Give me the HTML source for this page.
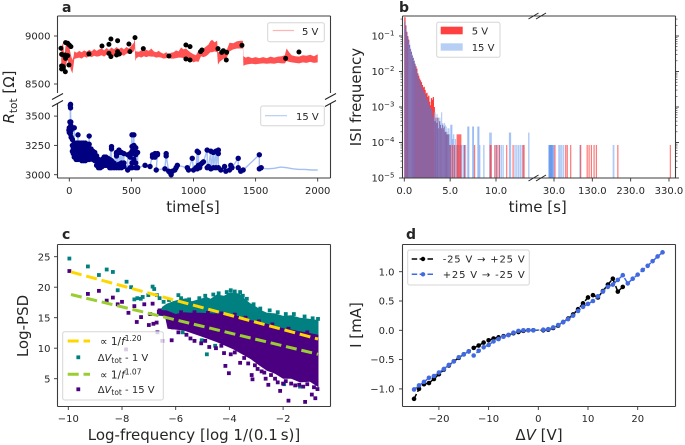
<!DOCTYPE html>
<html>
<head>
<meta charset="utf-8">
<style>
html,body{margin:0;padding:0;background:#fff;width:685px;height:445px;overflow:hidden}
svg{display:block;filter:blur(0.35px)}
text{font-family:"DejaVu Sans","Liberation Sans",sans-serif;fill:#262626}
</style>
</head>
<body>
<svg id="fig" width="685" height="445" viewBox="0 0 685 445" xmlns="http://www.w3.org/2000/svg">
<g id="pa"></g>
<g id="pb"></g>
<g id="pc"></g>
<g id="pd"></g>
</svg>
<script>
/* ---------- panel a data ---------- */
const bandTimes=[-65,-50,-40,-30,-15,0,15,25,35,40,60,80,100,120,140,160,180,200,220,240,260,280,300,320,340,360,380,400,420,440,460,480,500,520,527,532,540,560,580,600,620,640,660,680,700,720,740,760,780,800,820,840,860,880,900,920,940,960,980,1000,1020,1040,1060,1080,1100,1120,1135,1150,1170,1190,1197,1210,1240,1270,1290,1320,1350,1380,1398,1402,1420,1440,1470,1500,1530,1560,1590,1620,1650,1680,1710,1735,1750,1770,1790,1820,1850,1880,1910,1940,1970,2000];
const bandHigh=[8880,8930,8780,8900,8920,8880,8790,8750,8790,8840,8825,8845,8830,8850,8835,8855,8840,8865,8845,8860,8870,8850,8875,8855,8880,8860,8885,8865,8880,8860,8885,8870,8900,8930,8985,8840,8840,8835,8850,8840,8855,8845,8870,8840,8830,8845,8825,8815,8830,8810,8825,8830,8850,8840,8880,8860,8870,8845,8825,8810,8800,8850,8855,8870,8890,8910,8945,8960,8935,8950,8830,8830,8850,8860,8930,8925,8945,8950,8950,8790,8775,8785,8770,8780,8770,8780,8770,8785,8775,8785,8790,8800,8870,8830,8800,8790,8785,8800,8795,8805,8790,8810];
const bandLow=[8640,8700,8620,8690,8750,8700,8640,8610,8700,8760,8770,8775,8765,8785,8775,8790,8780,8795,8785,8790,8800,8785,8805,8790,8800,8790,8810,8790,8805,8795,8815,8820,8830,8840,8870,8740,8770,8785,8775,8790,8780,8790,8785,8785,8775,8780,8775,8765,8770,8770,8765,8765,8770,8775,8775,8770,8770,8750,8745,8725,8735,8730,8790,8780,8790,8810,8830,8830,8840,8830,8700,8730,8760,8780,8840,8860,8870,8870,8870,8690,8700,8705,8710,8705,8710,8715,8710,8715,8710,8720,8715,8715,8740,8730,8725,8720,8715,8725,8720,8730,8720,8725];
const blackPoints=[[-67,8872],[-62,8809],[-30,8931],[-13,8924],[0,8906],[13,8889],[-48,8802],[-35,8802],[-13,8795],[-30,8767],[-62,8688],[-48,8681],[-62,8656],[-48,8663],[-32,8628],[-3,8698],[158,8813],[263,8896],[319,8913],[335,8969],[319,8819],[335,8785],[389,8951],[389,8837],[381,8802],[403,8813],[480,8917],[488,8837],[529,8983],[596,8868],[802,8792],[939,8906],[972,8889],[939,8760],[972,8750],[1057,8837],[1068,8854],[1197,8868],[1227,8830],[1240,8847],[1267,8830],[1264,8750],[1390,8903],[1742,8767],[1849,8833]];
const navyTimes=[10,12,8,5,0,-3,15,25,32,40,48,55,62,70,78,85,92,100,108,115,122,130,138,145,152,160,168,175,190,205,220,235,250,265,280,295,310,325,340,360,380,400,420,440,470,490,505,520,535,550,610,650,670,690,710,700,770,780,800,810,820,830,850,860,870,950,960,990,1000,1020,1030,1040,1050,1060,1070,1080,1110,1120,1140,1160,1180,1200,1220,1250,1260,1290,1300,1310,1360,1380,1400,1530,1545];
const navyValues=[[3600,3570],[3420,3450],[3590,3350],[3450,3380],[3400,3360],[3380],[3380,3320],[3400,3300,3250,3200],[3230,3180],[3400,3270,3230,3190,3150],[3250,3200,3160],[3130,3170,3210,3250,3270],[3240,3200,3150],[3340,3130,3170,3210,3250,3270],[3240,3190,3150],[3150,3190,3230,3270],[3250,3210,3170],[3120,3160,3200,3240,3270],[3260,3220,3180,3140],[3120,3160,3200,3240,3270],[3250,3210,3170,3130],[3120,3160,3200,3250,3270],[3220,3180,3140],[3130,3170,3210,3250],[3230,3190,3150],[3330,3130,3170,3210,3260],[3220,3180,3140],[3140,3180,3220],[3130,3170,3200],[3120,3160,3190],[3080,3120,3160],[3060,3100,3130],[3060,3090,3120],[3070,3110,3130],[3080,3120,3150],[3080,3120,3150],[3080,3110,3140],[3060,3090,3130],[3240,3220,3060,3090,3120],[3060,3100],[3190,3180,3160,3060,3080],[3210,3190,3060,3090],[3190,3060,3100],[3180,3070,3100],[3040,3170],[3180,3150,3060],[3340,3240,3200,3100,3060],[3340,3250,3210,3130,3180],[3230,3190,3100,3060,3170],[3190,3060],[3080],[3070],[3170,3150],[3180,3150],[3170,3180],[3040],[3050],[3180,3160],[3030],[3020],[3000],[3030],[3040],[3060],[3080],[3060],[3040],[3140],[3040],[3060],[3200,3050],[3190,3080],[3060],[3090],[3100],[3110],[3210,3060],[3070],[3200,3050],[3190,3060],[3200,3060],[3210,3180,3060],[3040],[3070],[3030],[3040],[3080],[3060],[3140,3060],[3030],[3040],[3170,3050],[3060]];
const tailTimes=[1560,1600,1650,1700,1750,1800,1850,1900,1950,2000];
const tailValues=[3055,3050,3055,3065,3060,3050,3045,3045,3040,3040];
const aXTicks=[0,500,1000,1500,2000];
const aTopTicks=[9000,8500];
const aLowTicks=[3500,3250,3000];

/* ---------- panel b data ---------- */
const isi5LogFreq=[-0.47,-0.7,-0.88,-1.0,-1.1,-1.25,-1.37,-1.45,-1.55,-1.62,-1.7,-1.78,-1.85,-1.92,-2.05,-2.12,-2.2,-2.25,-2.3,-2.38,-2.45,-2.43,-2.52,-2.62,-2.6,-2.72,-2.68,-2.85,-2.95,-2.75,-2.8,-2.72,-3.0,-3.4,-3.3,-3.45,-3.3,-3.6,-3.4,-3.5,-3.6,-3.5,-3.6,-3.55,-3.7,-3.7,-3.77,-3.77,-3.77,-4.07];
const isi15LogFreq=[-0.6,-0.75,-0.9,-1.02,-1.12,-1.22,-1.33,-1.42,-1.52,-1.6,-1.68,-1.78,-1.88,-1.97,-2.08,-2.17,-2.25,-2.3,-2.4,-2.46,-2.52,-2.58,-2.62,-2.7,-2.78,-2.8,-2.88,-2.95,-3.02,-3.05,-3.12,-3.25,-3.3,-3.15,-3.35,-3.2,-3.3,-3.45,-3.3,-3.42,-3.15,-3.45,-3.5,-3.45,-3.5,-3.55,-3.7,-3.6,-3.6,-3.77];
const isi5TailTimes=[5.0,5.2,5.4,5.7,5.8,5.9,6.0,6.1,6.5,7.6,9.3,9.4,9.8,10.0,10.3,11.1,11.8,12.9,13.0,31,59,63,72,98,115,120,126,133,139,195,332];
const isi5TailLog=[-4.07,-4.07,-4.07,-3.77,-3.77,-3.77,-3.77,-3.77,-4.07,-4.07,-4.07,-4.07,-4.07,-4.07,-4.07,-4.07,-4.07,-4.07,-4.07,-4.07,-4.07,-4.07,-4.07,-4.07,-4.07,-4.07,-4.07,-4.07,-4.07,-4.07,-4.07];
const isi15TailTimes=[5.0,5.1,5.2,5.3,5.4,5.5,5.6,5.7,5.8,6.0,6.1,6.2,6.4,6.5,6.6,6.85,6.95,7.4,7.45,7.95,8.05,8.15,8.6,9.25,9.4,9.9,10.1,10.3,10.5,10.7,11.4,11.5,12.0,12.2,12.4,12.6,12.8,13.5,15,16,17,18,19,20,21,22,23,25,27,41,46,52,96,183];
const isi15TailLog=[-3.5,-3.5,-3.9,-3.77,-4.07,-3.9,-4.07,-4.07,-4.07,-4.07,-4.07,-4.07,-4.07,-4.07,-4.07,-3.55,-3.55,-3.55,-3.55,-3.55,-3.55,-4.07,-4.07,-3.72,-3.72,-4.07,-4.07,-4.07,-4.07,-4.07,-3.72,-3.72,-4.07,-4.07,-4.07,-4.07,-4.07,-3.72,-4.07,-4.07,-4.07,-4.07,-4.07,-4.07,-4.07,-4.07,-4.07,-4.07,-4.07,-4.07,-4.07,-4.07,-4.07,-4.07];
const bXTicks=[0,5,10,30,130,230,330];
const bXLabels=["0.0","5.0","10.0","30.0","130.0","230.0","330.0"];
const bYTicks=[-1,-2,-3,-4,-5];

/* ---------- panel c data ---------- */
const tealEnvX=[-6.5,-6.34,-6.1,-5.85,-5.6,-5.4,-5.15,-4.85,-4.7,-4.47,-4.2,-3.97,-3.8,-3.6,-3.4,-3.23,-3,-2.8,-2.6,-2.3,-2,-1.7,-1.37,-1,-0.68];
const tealEnvTop=[16.8,17.3,17.7,18.0,18.2,17.7,18.0,18.4,18.1,18.8,18.6,19.2,19.1,18.9,18.0,17.4,16.8,16.2,15.8,15.7,15.3,15.4,15.0,14.8,14.6];
const purpleEnvX=[-6.7,-6.34,-6,-5.7,-5.4,-5.1,-4.6,-4.1,-3.6,-3.2,-2.6,-2,-1.4,-0.68];
const purpleEnvTop=[16.3,16.2,15.6,15.9,15.8,15.8,15.7,15.7,15.2,14.6,14,13.3,12.8,12.2];
const purpleEnvLowX=[-6.7,-6.4,-6.3,-5.7,-5.1,-4.47,-3.85,-3.2,-2.9,-2.6,-2.3,-2,-1.7,-1.37,-1,-0.68];
const purpleEnvLow=[15.5,15.2,13.2,12.9,12.0,11.0,9.8,8.2,7.2,6.3,5.8,5.0,5.0,4.4,4.5,3.6];
const tealPoints=[[-9.96,24.7],[-9.27,23.4],[-8.86,22],[-8.57,22.9],[-8.34,22.5],[-8.16,19.5],[-7.83,20.9],[-7.66,20],[-7.54,18],[-7.43,18.2],[-7.3,18.1],[-7.23,18.4],[-7.02,18.7],[-6.86,20.1],[-6.8,19.7],[-6.7,18.7],[-6.6,18.2],[-6.45,17.6],[-6.25,17.9],[-5.9,18.7],[-5.8,18.2],[-5.5,18.0],[-5.12,18.2],[-4.9,18.6],[-4.6,18.8],[-4.4,19],[-4.1,19.2],[-3.95,19.5],[-3.8,19.3],[-3.6,19.2],[-3.5,18.6],[-3.35,18.1],[-3.1,17.2],[-2.85,16.5],[-2.5,16.2],[-2.2,15.9],[-1.9,15.6],[-1.6,15.6],[-1.2,15.2],[-0.9,14.9],[-0.7,14.8],[-4.84,9],[-4.53,10.4],[-5.74,12.6],[-5.03,11.3],[-1.96,4.1],[-1.37,3.7]];
const purplePoints=[[-9.96,22.65],[-9.27,18.9],[-8.86,19.4],[-8.57,17.8],[-8.34,18.3],[-8.16,17.2],[-8,17.6],[-7.76,15.8],[-7.54,16.9],[-7.45,14.3],[-7.29,15.1],[-7.17,17.2],[-7,13.8],[-6.83,14],[-6.71,14.2],[-6.86,17.3],[-6.68,12.6],[-6.5,11.2],[-6.15,11.3],[-7.85,9.8],[-6.95,15.6],[-6.6,16.2],[-6.45,15.8],[-6.3,15.4],[-6.2,14.2],[-6.1,13.4],[-5.9,12.6],[-5.6,12.2],[-5.45,11.6],[-5.3,11.2],[-5.05,10.8],[-4.9,11.2],[-4.75,10.2],[-4.5,10],[-4.3,10.4],[-4.15,7.1],[-4.02,5.9],[-4.2,9.2],[-3.95,9],[-3.8,9.3],[-3.6,7.6],[-3.45,8.4],[-3.3,7.5],[-3.17,5.6],[-3.14,4.9],[-3.05,7.2],[-2.95,6.6],[-2.8,6.2],[-2.7,6],[-2.65,5],[-2.55,4],[-2.45,5.6],[-2.3,5],[-2.2,4.4],[-2.11,3],[-2,4.2],[-1.9,4.6],[-1.8,1.4],[-1.7,4.2],[-1.55,3.9],[-1.4,4],[-1.25,3.7],[-1.18,1.2],[-1.1,4.1],[-0.93,2.4],[-0.85,3.6],[-0.8,1.8],[-0.72,3.3],[-5.8,15.9],[-5.3,15.9],[-4.8,15.8],[-4.3,15.7],[-3.8,15.5],[-3.4,15],[-2.9,14.4],[-2.4,13.9],[-1.8,13.2],[-1.1,12.6]];
const fitGoldX=[-9.9,-0.7];
const fitGoldY=[22.5,11.5];
const fitGreenX=[-9.9,-0.7];
const fitGreenY=[18.8,9];
const cXTicks=[-10,-8,-6,-4,-2];
const cYTicks=[25,20,15,10,5];

/* ---------- panel d data ---------- */
const blackV=[-25,-24,-23,-22,-21,-20,-19,-18,-17,-16,-15,-14,-13,-12,-11,-10,-9,-8,-7,-6,-5,-4,-3,-2,-1,1,2,3,4,5,6,7,8,9,10,11,12,13,14,15,16,17];
const blackI=[-1.17,-1.0,-0.92,-0.9,-0.83,-0.75,-0.67,-0.6,-0.53,-0.47,-0.41,-0.36,-0.3,-0.26,-0.21,-0.17,-0.14,-0.12,-0.1,-0.08,-0.05,-0.03,-0.01,0,0,0,0.01,0.04,0.08,0.14,0.2,0.27,0.36,0.46,0.56,0.6,0.56,0.67,0.78,0.88,0.66,0.74];
const blueUpperV=[25,24,23,22,21,20,19,18,17,16,15,14,13,12,11,10,9,8,7,6,5,4,3,2,1,-1,-2,-3,-4,-5,-6,-7,-8,-9,-10,-11,-12,-13];
const blueUpperI=[1.33,1.26,1.18,1.1,1.03,0.95,0.88,0.8,0.94,0.86,0.78,0.74,0.66,0.58,0.5,0.45,0.4,0.33,0.25,0.19,0.14,0.09,0.05,0.02,0.01,0,0,0,-0.01,-0.04,-0.08,-0.11,-0.15,-0.19,-0.25,-0.29,-0.35,-0.43];
const blueLowerV=[-14,-15,-16,-17,-18,-19,-20,-21,-22,-23,-24,-25];
const blueLowerI=[-0.36,-0.41,-0.46,-0.53,-0.59,-0.66,-0.72,-0.78,-0.81,-0.88,-0.94,-1.01];
const dXTicks=[-20,-10,0,10,20];
const dYTicks=[1.0,0.5,0.0,-0.5,-1.0];

/* ---------- helpers and scales ---------- */
const NS='http://www.w3.org/2000/svg';
function mk(parent,tag,attrs,txt){
  const n=document.createElementNS(NS,tag);
  for(const k in attrs)n.setAttribute(k,attrs[k]);
  if(txt!==undefined)n.textContent=txt;
  parent.appendChild(n);
  return n;
}
const fmtMinus=v=>String(v).replace('-','\u2212');
const L=57.5,R=330.5,L2=402.5,R2=675.5;
const xA=t=>69.3+t*0.1242;
const yATop=v=>36+(9000-v)*0.096;
const yALow=v=>174.7-(v-3000)*0.1172;
const xB=t=>t<=14.5?404.3+t*9.17:554+(t-30)*0.3833;
const yB=e=>178-(e+5)*35.5;
const xC=v=>68.3+(v+10)*26.85;
const yC=v=>378.7-(v-5)*6.1;
const xD=v=>538.3+v*4.97;
const yD=v=>330.3-v*58.6;

function tick(g,x1,y1,x2,y2,w){
  const t=mk(g,'line',{x1:x1,y1:y1,x2:x2,y2:y2,stroke:'#333','stroke-width':w||0.9});
  
  
}
function label(g,x,y,s,anchor,size){
  const t=mk(g,'text',{x:x,y:y,'text-anchor':anchor||'middle','font-size':size||10},s);
  
  
  return t;
}
function spine(g,x1,y1,x2,y2){
  const s=mk(g,'line',{x1:x1,y1:y1,x2:x2,y2:y2,stroke:'#3c3c3c','stroke-width':1.1});
  
  
}
function breakMark(g,x,y,dx,dy){
  const s=mk(g,'line',{x1:x-dx,y1:y+dy,x2:x+dx,y2:y-dy,stroke:'#222','stroke-width':1});
  
  
}
function legendBox(g,x,y,w,h){
  const b=mk(g,'rect',{x:x,y:y,width:w,height:h,rx:2,fill:'#fff','fill-opacity':0.8,stroke:'#d6d6d6','stroke-width':1});
  
  
}
function named(n,name){
  
  
  return n;
}
function titleText(g,x,y,s,name){
  const t=mk(g,'text',{x:x,y:y,'font-size':14,'font-weight':'bold'},s);
  
  
}
function rotLabel(g,x,y,name){
  const t=mk(g,'text',{x:x,y:y,'font-size':15,'text-anchor':'middle',transform:'rotate(-90 '+x+' '+y+')'});
  
  
  return t;
}
function rich(t,parts){
  parts.forEach(p=>{
    const a={};
    if(p.i)a['font-style']='italic';
    if(p.s)a['font-size']=p.s;
    if(p.dy)a.dy=p.dy;
    mk(t,'tspan',a,p.t);
  });
}

/* ---------- panel a ---------- */
(function(){
  const g=document.getElementById('pa');
  let d='';
  bandTimes.forEach((t,i)=>{d+=(i?'L':'M')+xA(t).toFixed(1)+' '+yATop(bandHigh[i]).toFixed(1);});
  for(let i=bandTimes.length-1;i>=0;i--)d+='L'+xA(bandTimes[i]).toFixed(1)+' '+yATop(bandLow[i]).toFixed(1);
  const band=mk(g,'path',{d:d+'Z',fill:'#ff5252'});
  
  
  blackPoints.forEach(p=>{
    const c=mk(g,'circle',{cx:xA(p[0]),cy:yATop(p[1]),r:2.5,fill:'#000'});
    
    
  });
  let pts=[];
  navyTimes.forEach((t,i)=>navyValues[i].forEach(v=>pts.push(xA(t).toFixed(1)+','+yALow(v).toFixed(1))));
  tailTimes.forEach((t,i)=>pts.push(xA(t).toFixed(1)+','+yALow(tailValues[i]).toFixed(1)));
  const line=mk(g,'polyline',{points:pts.join(' '),fill:'none',stroke:'#a4c0f2','stroke-width':1.4});
  
  
  navyTimes.forEach((t,i)=>navyValues[i].forEach(v=>{
    const c=mk(g,'circle',{cx:xA(t),cy:yALow(v),r:2.7,fill:'#000080'});
    
    
  }));
  spine(g,L,16,R,16);spine(g,L,16,L,93);spine(g,R,16,R,93);
  spine(g,L,103,L,178);spine(g,R,103,R,178);spine(g,L,178,R,178);
  [[L,97],[L,104],[R,97],[R,104]].forEach(p=>{breakMark(g,p[0],p[1]-0.5,5.5,3);});
  aXTicks.forEach(v=>{tick(g,xA(v),178,xA(v),181.5);label(g,xA(v),194,String(v));});
  aTopTicks.forEach(v=>{tick(g,54,yATop(v),L,yATop(v));label(g,50.5,yATop(v)+3.6,String(v),'end');});
  aLowTicks.forEach(v=>{tick(g,54,yALow(v),L,yALow(v));label(g,50.5,yALow(v)+3.6,String(v),'end');});
  titleText(g,62,12,'a','panel-a-label');
  const yl=rotLabel(g,14,97,'y-axis-title-resistance');
  rich(yl,[{t:'R',i:1},{t:'tot',s:10.5,dy:3},{t:' [\u03a9]',dy:-3}]);
  named(mk(g,'text',{x:193,y:212,'font-size':15,'text-anchor':'middle'},'time[s]'),'x-axis-title-time');
  legendBox(g,267.7,22.7,56.6,19);
  named(mk(g,'line',{x1:272.7,y1:30.5,x2:294,y2:30.5,stroke:'#ffb3b3','stroke-width':1.2}),'legend-line-5v');
  named(mk(g,'text',{x:302,y:35,'font-size':10},'5 V'),'legend-entry-5v');
  legendBox(g,260.7,106,63.6,19.7);
  named(mk(g,'line',{x1:265,y1:115.7,x2:287,y2:115.7,stroke:'#b3cbf3','stroke-width':1.2}),'legend-line-15v');
  named(mk(g,'text',{x:296,y:120,'font-size':10},'15 V'),'legend-entry-15v');
})();

/* ---------- panel b ---------- */
(function(){
  const g=document.getElementById('pb');
  const w=0.1;
  function bar(t,e,fill,op,name,wd){
    const x=xB(t);
    const r=mk(g,'rect',{x:x,y:yB(e),width:wd,height:178-yB(e),fill:fill,'fill-opacity':op});
    
    
  }
  isi15TailTimes.forEach((t,i)=>bar(t,isi15TailLog[i],'#6495ed',0.5,'bar-15v',t>14.5?1.8:1.4));
  isi5TailTimes.forEach((t,i)=>bar(t,isi5TailLog[i],'#ff3030',0.65,'bar-5v',t>14.5?1.2:1.2));
  isi5LogFreq.forEach((e,i)=>{
    const t=i*w,b=isi15LogFreq[i];
    const wd=w*9.17+0.35;
    if(e>b){bar(t,e,'#ff3a3a',1,'bar-5v',wd);}
    else if(b>e){bar(t,b,'#b8cff5',1,'bar-15v',wd);}
    bar(t,Math.min(e,b),'#8468aa',1,'bar-overlap',wd);
  });
  spine(g,L2,16,R2,16);spine(g,L2,178,R2,178);spine(g,L2,16,L2,178);spine(g,R2,16,R2,178);
  [[533.5,16],[541,16],[533.5,178],[541,178]].forEach(p=>breakMark(g,p[0],p[1],5,3));
  bXTicks.forEach((v,i)=>{tick(g,xB(v),178,xB(v),181.5);label(g,xB(v),194,bXLabels[i]);});
  bYTicks.forEach(e=>{
    tick(g,399,yB(e),L2,yB(e));tick(g,R2,yB(e),R2+3.5,yB(e));
    const t=label(g,394.5,yB(e)+3.6,'','end');
    rich(t,[{t:'10'},{t:'\u2212'+Math.abs(e),s:7,dy:-4}]);
    if(e>-5){
      [2,3,4,5,6,7,8,9].forEach(m=>{
        const ym=yB(e-1+Math.log10(m));
        tick(g,400.5,ym,L2,ym,0.6);tick(g,R2,ym,R2+2,ym,0.6);
      });
    }
  });
  [2,3].forEach(m=>{const ym=yB(-1+Math.log10(m));if(ym>16){tick(g,400.5,ym,L2,ym,0.6);tick(g,R2,ym,R2+2,ym,0.6);}});
  titleText(g,399,12,'b','panel-b-label');
  const yl=rotLabel(g,361,97,'y-axis-title-isi-frequency');
  yl.textContent='ISI frequency';
  named(mk(g,'text',{x:537.7,y:212,'font-size':15,'text-anchor':'middle'},'time [s]'),'x-axis-title-time');
  legendBox(g,436.7,22.3,63.3,35);
  named(mk(g,'rect',{x:440.7,y:26.7,width:22,height:7.6,fill:'#ff4040'}),'legend-patch-5v');
  named(mk(g,'text',{x:471.7,y:34.5,'font-size':10},'5 V'),'legend-entry-5v');
  named(mk(g,'rect',{x:440.7,y:43.3,width:22,height:7.4,fill:'#b8cff5'}),'legend-patch-15v');
  named(mk(g,'text',{x:471.7,y:51,'font-size':10},'15 V'),'legend-entry-15v');
})();

/* ---------- panel c ---------- */
(function(){
  const g=document.getElementById('pc');
  function sq(p,fill,name,x,y){
    const r=mk(g,'rect',{x:(x===undefined?xC(p[0]):x)-1.9,y:(y===undefined?yC(p[1]):y)-1.9,width:3.8,height:3.8,fill:fill});
    
    
  }
  let d='';
  tealEnvX.forEach((x,i)=>{d+=(i?'L':'M')+xC(x).toFixed(1)+' '+yC(tealEnvTop[i]).toFixed(1);});
  for(let i=purpleEnvX.length-1;i>=0;i--)d+='L'+xC(purpleEnvX[i]).toFixed(1)+' '+(yC(purpleEnvTop[i])+6).toFixed(1);
  named(mk(g,'path',{d:d+'Z',fill:'#008080'}),'series-1v-dense-cloud');
  tealPoints.forEach(p=>sq(p,'#008080','point-1v'));
  let e='';
  purpleEnvX.forEach((x,i)=>{e+=(i?'L':'M')+xC(x).toFixed(1)+' '+yC(purpleEnvTop[i]).toFixed(1);});
  for(let i=purpleEnvLowX.length-1;i>=0;i--)e+='L'+xC(purpleEnvLowX[i]).toFixed(1)+' '+yC(purpleEnvLow[i]).toFixed(1);
  named(mk(g,'path',{d:e+'Z',fill:'#4b0082'}),'series-15v-dense-cloud');
  purplePoints.forEach(p=>sq(p,'#4b0082','point-15v'));
  named(mk(g,'line',{x1:xC(fitGoldX[0]),y1:yC(fitGoldY[0]),x2:xC(fitGoldX[1]),y2:yC(fitGoldY[1]),stroke:'#ffd700','stroke-width':3,'stroke-dasharray':'11 4.8'}),'fit-line-1v');
  named(mk(g,'line',{x1:xC(fitGreenX[0]),y1:yC(fitGreenY[0]),x2:xC(fitGreenX[1]),y2:yC(fitGreenY[1]),stroke:'#9acd32','stroke-width':3,'stroke-dasharray':'11 4.8'}),'fit-line-15v');
  spine(g,L,244.5,R,244.5);spine(g,L,406.5,R,406.5);spine(g,L,244.5,L,406.5);spine(g,R,244.5,R,406.5);
  cXTicks.forEach(v=>{tick(g,xC(v),406.5,xC(v),410);label(g,xC(v),422,fmtMinus(v));});
  cYTicks.forEach(v=>{tick(g,54,yC(v),L,yC(v));label(g,50.5,yC(v)+3.6,String(v),'end');});
  titleText(g,62,239,'c','panel-c-label');
  const yl=rotLabel(g,28,326,'y-axis-title-log-psd');
  yl.textContent='Log-PSD';
  named(mk(g,'text',{x:194,y:440,'font-size':15,'text-anchor':'middle'},'Log-frequency [log 1/(0.1\u2009s)]'),'x-axis-title-log-frequency');
  legendBox(g,62.7,331.7,100.6,68.3);
  named(mk(g,'line',{x1:67.7,y1:341,x2:90,y2:341,stroke:'#ffd700','stroke-width':3,'stroke-dasharray':'11 4.8'}),'legend-line-fit-1v');
  const t1=named(mk(g,'text',{x:100,y:345,'font-size':10.5}),'legend-entry-fit-1v');
  rich(t1,[{t:'\u221d 1/'},{t:'f',i:1},{t:'1.20',s:7.5,dy:-4}]);
  sq(null,'#008080','legend-marker-1v',78.3,357.3);
  const t2=named(mk(g,'text',{x:97.7,y:361,'font-size':10}),'legend-entry-1v');
  rich(t2,[{t:'\u0394'},{t:'V',i:1},{t:'tot',s:7.5,dy:2},{t:' - 1 V',dy:-2}]);
  named(mk(g,'line',{x1:67.7,y1:374.3,x2:90,y2:374.3,stroke:'#9acd32','stroke-width':3,'stroke-dasharray':'11 4.8'}),'legend-line-fit-15v');
  const t3=named(mk(g,'text',{x:100,y:378.5,'font-size':10.5}),'legend-entry-fit-15v');
  rich(t3,[{t:'\u221d 1/'},{t:'f',i:1},{t:'1.07',s:7.5,dy:-4}]);
  sq(null,'#4b0082','legend-marker-15v',78.3,389.3);
  const t4=named(mk(g,'text',{x:97.7,y:393,'font-size':10}),'legend-entry-15v');
  rich(t4,[{t:'\u0394'},{t:'V',i:1},{t:'tot',s:7.5,dy:2},{t:' - 15 V',dy:-2}]);
})();

/* ---------- panel d ---------- */
(function(){
  const g=document.getElementById('pd');
  function series(vs,is,color,name){
    const pts=vs.map((v,i)=>xD(v).toFixed(1)+','+yD(is[i]).toFixed(1)).join(' ');
    const l=mk(g,'polyline',{points:pts,fill:'none',stroke:color,'stroke-width':1.5,'stroke-dasharray':'5.5 2.4'});
    
    
    vs.forEach((v,i)=>{
      const c=mk(g,'circle',{cx:xD(v),cy:yD(is[i]),r:2.3,fill:color});
      
      
    });
  }
  series(blackV,blackI,'#000','sweep-up');
  series(blueUpperV,blueUpperI,'#4169e1','sweep-down');
  series(blueLowerV,blueLowerI,'#4169e1','sweep-down');
  spine(g,L2,244.5,R2,244.5);spine(g,L2,406.5,R2,406.5);spine(g,L2,244.5,L2,406.5);spine(g,R2,244.5,R2,406.5);
  dXTicks.forEach(v=>{tick(g,xD(v),406.5,xD(v),410);label(g,xD(v),422,fmtMinus(v));});
  dYTicks.forEach(v=>{tick(g,399,yD(v),L2,yD(v));label(g,394.5,yD(v)+3.6,fmtMinus(v.toFixed(1)),'end');});
  titleText(g,406,239,'d','panel-d-label');
  const yl=rotLabel(g,361,325,'y-axis-title-current');
  yl.textContent='I [mA]';
  const xl=named(mk(g,'text',{x:539,y:440,'font-size':15,'text-anchor':'middle'}),'x-axis-title-delta-v');
  rich(xl,[{t:'\u0394'},{t:'V',i:1},{t:' [V]'}]);
  legendBox(g,407.7,250,121.6,35);
  named(mk(g,'line',{x1:411.7,y1:259,x2:434.3,y2:259,stroke:'#000','stroke-width':1.5,'stroke-dasharray':'5.5 2.4'}),'legend-line-sweep-up');
  named(mk(g,'circle',{cx:423,cy:259,r:2.2,fill:'#000'}),'legend-marker-sweep-up');
  named(mk(g,'text',{x:442.7,y:262.5,'font-size':10,textLength:82,lengthAdjust:'spacing'},'-25 V \u2192 +25 V'),'legend-entry-sweep-up');
  named(mk(g,'line',{x1:411.7,y1:274.3,x2:434.3,y2:274.3,stroke:'#4169e1','stroke-width':1.5,'stroke-dasharray':'5.5 2.4'}),'legend-line-sweep-down');
  named(mk(g,'circle',{cx:423,cy:274.3,r:2.2,fill:'#4169e1'}),'legend-marker-sweep-down');
  named(mk(g,'text',{x:442.7,y:278,'font-size':10,textLength:82,lengthAdjust:'spacing'},'+25 V \u2192 -25 V'),'legend-entry-sweep-down');
})();
</script>
</body>
</html>
